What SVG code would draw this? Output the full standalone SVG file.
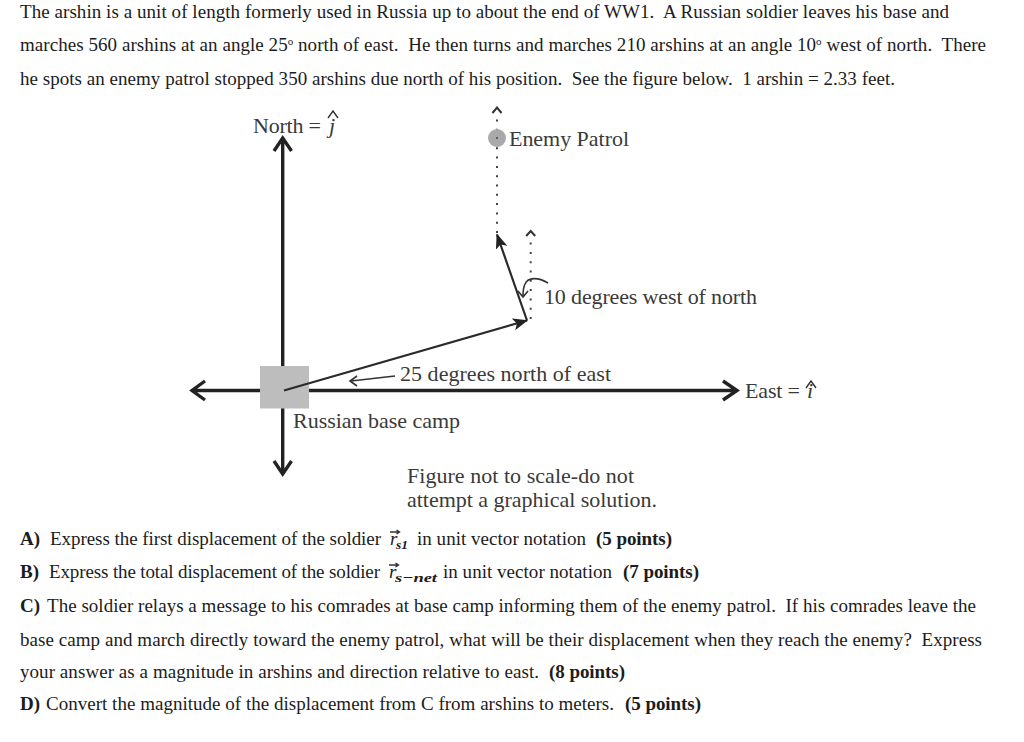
<svg xmlns="http://www.w3.org/2000/svg" width="1024" height="742" viewBox="0 0 1024 742">
<defs>
<style>
text{font-family:"Liberation Serif","Times New Roman",serif;white-space:pre}
.p{font-size:19px;fill:#1c1c1c}
.b{font-weight:bold}
.f{font-size:22px;fill:#3a3a3a}
.i{font-style:italic}
.m{font-size:19px;font-style:italic;fill:#1c1c1c}
.s{font-size:13.500px;font-style:italic;fill:#1c1c1c;font-weight:bold}
.axis{fill:none;stroke:#222;stroke-width:3.400}
.thin{fill:none;stroke:#2a2a2a;stroke-width:2.200}
.hair{fill:none;stroke:#333;stroke-width:1.600}
.dot{fill:none;stroke:#444;stroke-width:2;stroke-dasharray:2 7.300}
.hat{fill:none;stroke:#333;stroke-width:1.400}
.deg{font-size:11px}
</style>
<marker id="tri" markerWidth="16" markerHeight="14" refX="14" refY="6" orient="auto" markerUnits="userSpaceOnUse"><path d="M0 0 L15 6 L0 12 L3.500 6 Z" fill="#222"/></marker>
</defs>
<rect width="1024" height="742" fill="#fff"/>
<g id="problem-text">
<text class="p" x="20" y="18" textLength="929" lengthAdjust="spacing">The arshin is a unit of length formerly used in Russia up to about the end of WW1.  A Russian soldier leaves his base and</text>
<text class="p" x="20" y="51" textLength="966" lengthAdjust="spacing">marches 560 arshins at an angle 25<tspan class="deg" dy="-6">o</tspan><tspan dy="6"> north of east.  He then turns and marches 210 arshins at an angle 10</tspan><tspan class="deg" dy="-6">o</tspan><tspan dy="6"> west of north.  There</tspan></text>
<text class="p" x="20" y="85" textLength="875" lengthAdjust="spacing">he spots an enemy patrol stopped 350 arshins due north of his position.  See the figure below.  1 arshin = 2.33 feet.</text>
</g>
<g id="connectors">
<path class="axis" d="M282.700 366V139M274 151L282.700 138L291.500 151"/>
<path class="axis" d="M260 390.500H193M205 381L192 390.500L205 400"/>
<path class="axis" d="M309 390.500H736M723 381L737 390.500L723 400"/>
<path class="axis" d="M282.700 408V473M274 461L282.700 474L291.500 461"/>
<path class="dot" d="M497 233V113"/>
<path class="hat" style="stroke-width:2" d="M492.500 113L497 107.500L501.500 113"/>
<path class="dot" d="M530.700 319V238"/>
<path class="hat" style="stroke-width:2" d="M526.200 236L530.700 231L535.200 236"/>
<path class="thin" d="M284 390.500L527 320.500" marker-end="url(#tri)"/>
<path class="thin" d="M527 320.500L497 234.500" marker-end="url(#tri)"/>
<path class="hair" d="M548 283C538 277 528 277 525 284C523 288 523 292 523 296"/>
<path class="hair" d="M518 291L523 297L528 291"/>
<path class="hair" d="M395 376L351 381M357 376L350 381L357 386"/>
</g>
<g id="base-camp">
<rect x="260" y="366" width="49" height="42.500" fill="#bdbdbd"/>
<path class="thin" d="M284 390.500L309 383.300"/>
<text class="f" x="293" y="428" textLength="167" lengthAdjust="spacing">Russian base camp</text>
</g>
<g id="enemy-patrol">
<circle cx="497" cy="138" r="9" fill="#a9a9a9"/>
<circle cx="497" cy="138" r="1" fill="#444"/>
<text class="f" x="509" y="146" textLength="120" lengthAdjust="spacing">Enemy Patrol</text>
</g>
<g id="north-label">
<text class="f" x="253" y="133" textLength="68" lengthAdjust="spacing">North =</text>
<text class="f i" x="329" y="133">j</text>
<path class="hat" d="M328 118L333 111L338 118"/>
</g>
<g id="east-label">
<text class="f" x="745" y="398" textLength="55" lengthAdjust="spacing">East =</text>
<text class="f i" x="807" y="398">i</text>
<path class="hat" d="M806 388L811 381L816 388"/>
</g>
<g id="angle-labels">
<text class="f" x="544" y="304" textLength="213" lengthAdjust="spacing">10 degrees west of north</text>
<text class="f" x="400" y="381" textLength="211" lengthAdjust="spacing">25 degrees north of east</text>
</g>
<g id="note">
<text class="f" x="407" y="483" textLength="227" lengthAdjust="spacing">Figure not to scale-do not</text>
<text class="f" x="407" y="507" textLength="250" lengthAdjust="spacing">attempt a graphical solution.</text>
</g>
<g id="questions">
<text class="p b" x="20" y="545">A)</text>
<text class="p" x="50" y="545" textLength="331" lengthAdjust="spacing">Express the first displacement of the soldier</text>
<text class="m" x="390" y="545">r</text>
<path class="hat" d="M390 532H399M396.500 530L399.500 532L396.500 534"/>
<text class="s" x="396" y="549">s1</text>
<text class="p" x="417" y="545" textLength="169" lengthAdjust="spacing">in unit vector notation</text>
<text class="p b" x="596" y="545" textLength="76" lengthAdjust="spacing">(5 points)</text>
<text class="p b" x="20" y="578">B)</text>
<text class="p" x="49" y="578" textLength="331" lengthAdjust="spacing">Express the total displacement of the soldier</text>
<text class="m" x="389" y="578">r</text>
<path class="hat" d="M389 565H398M395.500 563L398.500 565L395.500 567"/>
<text class="s" x="395" y="582" textLength="42" lengthAdjust="spacingAndGlyphs">s−net</text>
<text class="p" x="443" y="578" textLength="169" lengthAdjust="spacing">in unit vector notation</text>
<text class="p b" x="623" y="578" textLength="76" lengthAdjust="spacing">(7 points)</text>
<text class="p b" x="20" y="612">C)</text>
<text class="p" x="47" y="612" textLength="929" lengthAdjust="spacing">The soldier relays a message to his comrades at base camp informing them of the enemy patrol.  If his comrades leave the</text>
<text class="p" x="20" y="646" textLength="962" lengthAdjust="spacing">base camp and march directly toward the enemy patrol, what will be their displacement when they reach the enemy?  Express</text>
<text class="p" x="20" y="678" textLength="519" lengthAdjust="spacing">your answer as a magnitude in arshins and direction relative to east.</text>
<text class="p b" x="549" y="678" textLength="76" lengthAdjust="spacing">(8 points)</text>
<text class="p b" x="20" y="710">D)</text>
<text class="p" x="46" y="710" textLength="568" lengthAdjust="spacing">Convert the magnitude of the displacement from C from arshins to meters.</text>
<text class="p b" x="625" y="710" textLength="76" lengthAdjust="spacing">(5 points)</text>
</g>
</svg>
